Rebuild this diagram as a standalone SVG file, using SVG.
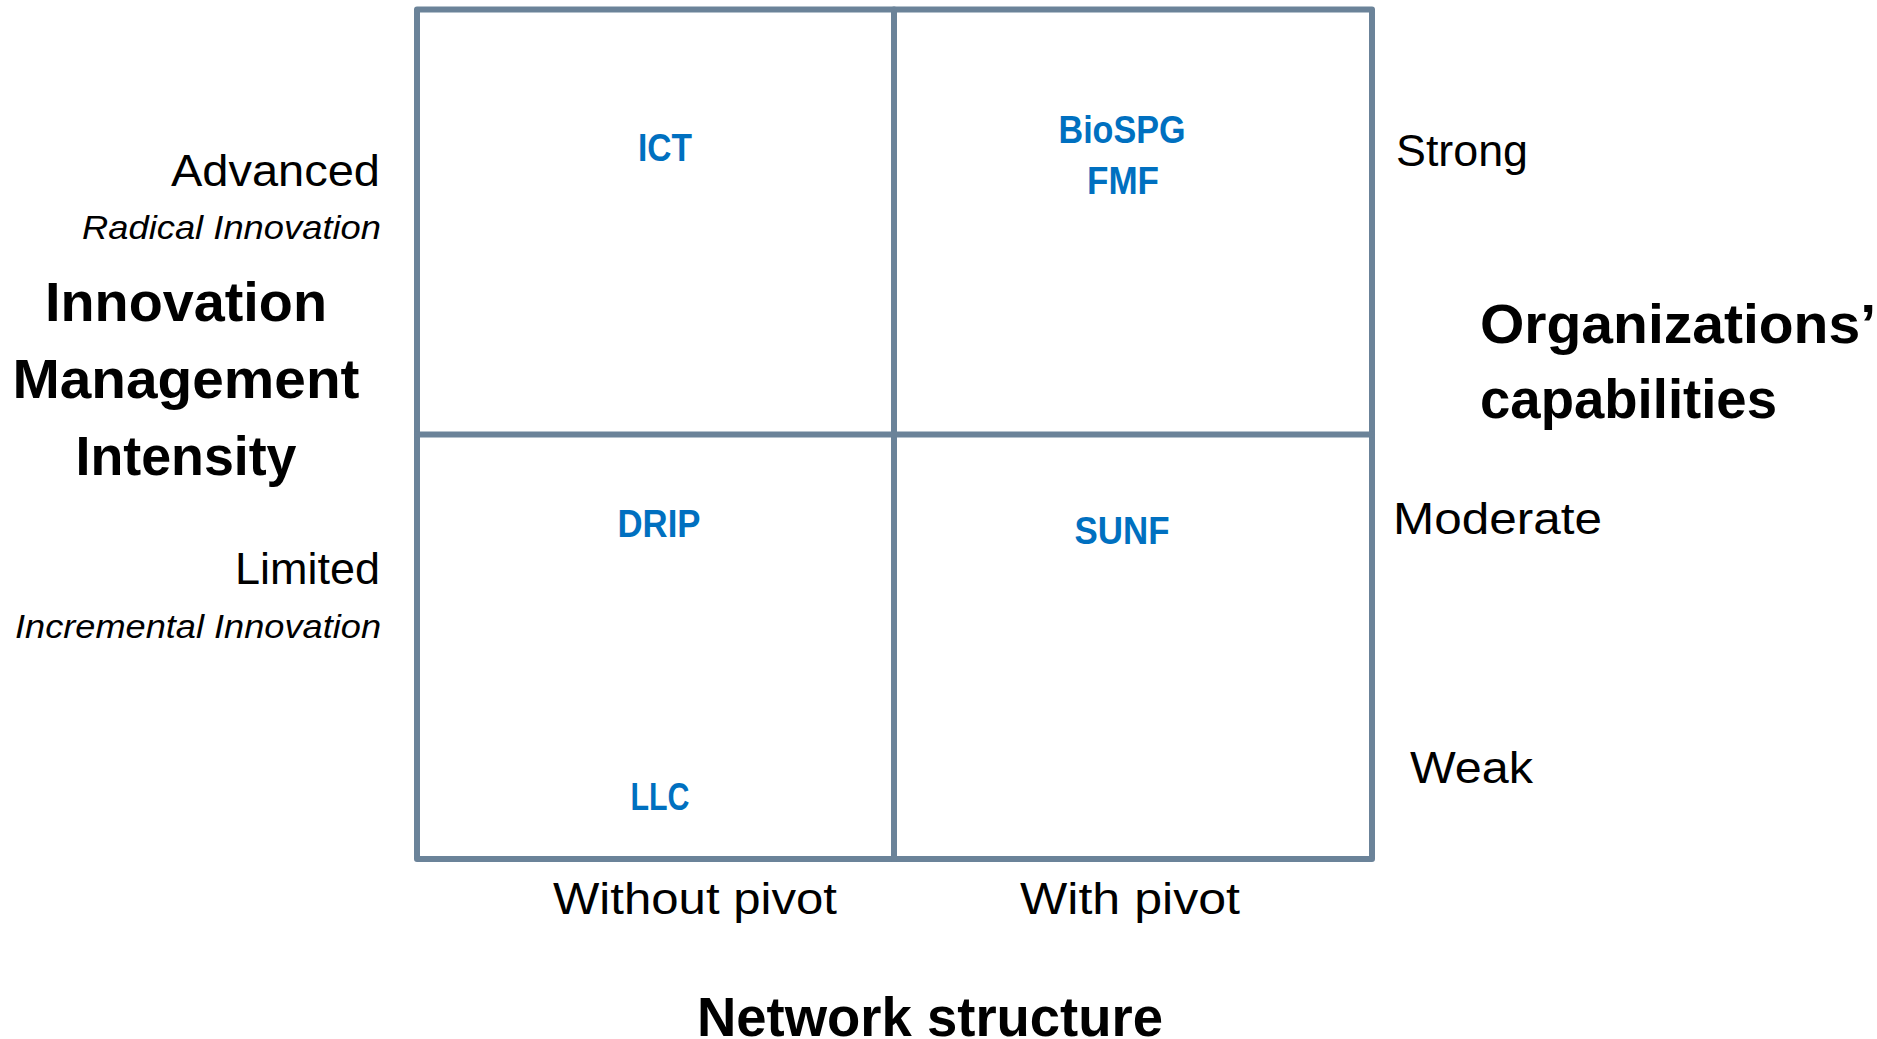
<svg xmlns="http://www.w3.org/2000/svg" width="1877" height="1039" viewBox="0 0 1877 1039">
<style>
  .grid { fill: none; stroke: #6b8399; stroke-width: 6; stroke-linejoin: round; stroke-linecap: round; }
  .lbl { font-family: "Liberation Sans", Arial, sans-serif; fill: #0070c0; font-weight: bold; font-size: 38px; text-anchor: middle; }
  .reg { font-family: "Liberation Sans", Arial, sans-serif; fill: #000; font-size: 44px; }
  .ital { font-family: "Liberation Sans", Arial, sans-serif; fill: #000; font-size: 34px; font-style: italic; text-anchor: end; }
  .ttl { font-family: "Liberation Sans", Arial, sans-serif; fill: #000; font-size: 56px; font-weight: bold; }
</style>
<rect width="1877" height="1039" fill="#ffffff"/>
<g id="grid">
  <rect class="grid" x="417" y="9.5" width="955" height="849.5"/>
</g>
<g id="connectors">
  <line class="grid" x1="894" y1="9.5" x2="894" y2="859"/>
  <line class="grid" x1="417" y1="434.5" x2="1372" y2="434.5"/>
</g>
<g id="node-ict"><text class="lbl" x="665" y="161" textLength="54" lengthAdjust="spacingAndGlyphs">ICT</text></g>
<g id="node-biospg-fmf">
  <text class="lbl" x="1122" y="143" textLength="127" lengthAdjust="spacingAndGlyphs">BioSPG</text>
  <text class="lbl" x="1123" y="194" textLength="72" lengthAdjust="spacingAndGlyphs">FMF</text>
</g>
<g id="node-drip"><text class="lbl" x="659" y="537" textLength="83" lengthAdjust="spacingAndGlyphs">DRIP</text></g>
<g id="node-sunf"><text class="lbl" x="1122" y="544" textLength="95" lengthAdjust="spacingAndGlyphs">SUNF</text></g>
<g id="node-llc"><text class="lbl" x="660" y="810" textLength="59" lengthAdjust="spacingAndGlyphs">LLC</text></g>
<g id="y-axis">
  <text class="reg" x="380" y="186" text-anchor="end" textLength="209" lengthAdjust="spacingAndGlyphs">Advanced</text>
  <text class="ital" x="381" y="239" textLength="299" lengthAdjust="spacingAndGlyphs">Radical Innovation</text>
  <text class="ttl" x="186" y="321" text-anchor="middle" textLength="282" lengthAdjust="spacingAndGlyphs">Innovation</text>
  <text class="ttl" x="186" y="398" text-anchor="middle" textLength="347" lengthAdjust="spacingAndGlyphs">Management</text>
  <text class="ttl" x="186" y="475" text-anchor="middle" textLength="221" lengthAdjust="spacingAndGlyphs">Intensity</text>
  <text class="reg" x="380" y="584" text-anchor="end" textLength="145" lengthAdjust="spacingAndGlyphs">Limited</text>
  <text class="ital" x="381" y="638" textLength="366" lengthAdjust="spacingAndGlyphs">Incremental Innovation</text>
</g>
<g id="right-axis">
  <text class="reg" x="1396" y="166" textLength="132" lengthAdjust="spacingAndGlyphs">Strong</text>
  <text class="ttl" x="1480" y="343" textLength="396" lengthAdjust="spacingAndGlyphs">Organizations’</text>
  <text class="ttl" x="1480" y="418" textLength="297" lengthAdjust="spacingAndGlyphs">capabilities</text>
  <text class="reg" x="1393" y="534" textLength="209" lengthAdjust="spacingAndGlyphs">Moderate</text>
  <text class="reg" x="1410" y="783" textLength="123" lengthAdjust="spacingAndGlyphs">Weak</text>
</g>
<g id="x-axis">
  <text class="reg" x="553" y="914" textLength="284" lengthAdjust="spacingAndGlyphs">Without pivot</text>
  <text class="reg" x="1020" y="914" textLength="220" lengthAdjust="spacingAndGlyphs">With pivot</text>
  <text class="ttl" x="930" y="1036" text-anchor="middle" textLength="466" lengthAdjust="spacingAndGlyphs">Network structure</text>
</g>
</svg>
